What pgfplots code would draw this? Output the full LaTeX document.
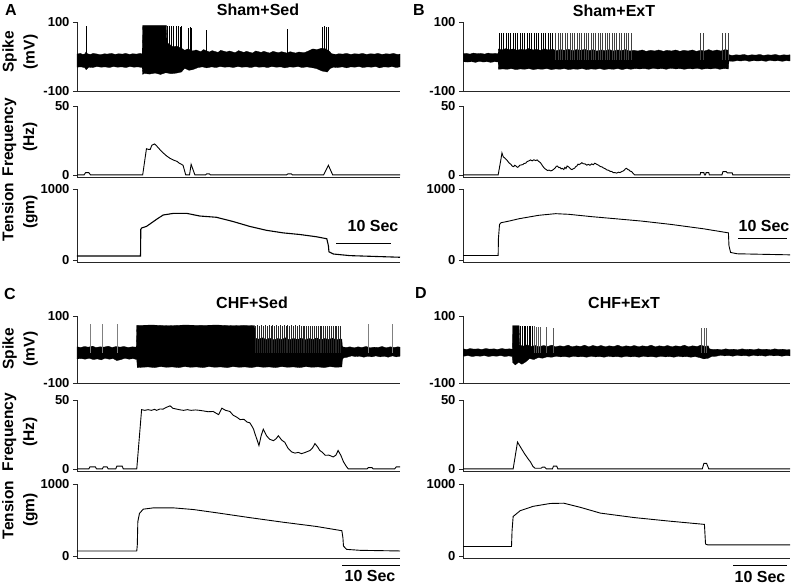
\documentclass[border=0pt]{standalone}
\usepackage{fontspec}
\setmainfont{Liberation Sans}
\usepackage{pgfplots}
\pgfplotsset{compat=1.18}
\newcommand{\lab}{\fontsize{15.5}{21}\selectfont\bfseries}
\newcommand{\ttl}{\fontsize{16}{16}\selectfont\bfseries}
\pgfplotsset{
  panel/.style={scale only axis, axis lines=left, axis line style={-, line width=0.7pt, black!85},
    xmin=0, xmax=60, xtick=\empty, tick align=outside, major tick length=4pt,
    ytick style={line width=0.6pt, black!85},
    yticklabel style={font=\fontsize{13}{13}\selectfont\bfseries},
    anchor=south west},
  spk/.style={panel, ymin=-100, ymax=100, ytick={-100,100}, yticklabels={-100,100}},
  frq/.style={panel, ymin=-1.5, ymax=50, ytick={0,50}, yticklabels={0,50}},
  ten/.style={panel, ymin=-30, ymax=1000, ytick={0,1000}, yticklabels={0,1000}},
  band/.style={fill=black, draw=black, line width=0.3pt},
  spikes/.style={black, line width=0.6pt, quiver={u=0, v=\thisrow{p}+10}},
  trace/.style={black, line width=0.9pt},
}
\begin{document}
\begin{tikzpicture}
\path[use as bounding box] (0,0) rectangle (797pt,-587pt);

% ================= Panel A =================
\begin{axis}[spk, at={(77pt,-91pt)}, width=323pt, height=69pt]
\addplot[band] coordinates {(0,7) (0.6,9) (1.1,6) (1.5,8) (1.7,14) (1.9,8) (2.5,6) (3.0,9) (3.8,7) (4.3,5) (5.1,8) (5.6,7) (6.4,9) (7.1,6) (7.7,8) (8.5,7) (9.0,9) (9.8,6) (10.3,8) (11.1,7) (11.7,9) (12.1,7) (12.2,90) (16.6,90) (16.7,40) (17.2,35) (17.8,28) (18.5,30) (19.4,24) (20.0,18) (20.6,22) (21.5,16) (22.1,19) (23.0,14) (23.5,20) (24.6,13) (25.1,17) (26.2,12) (26.7,18) (27.8,13) (28.3,16) (29.4,11) (30.0,17) (31.0,12) (31.5,15) (32.6,10) (33.2,16) (34.2,12) (34.7,15) (35.8,10) (36.4,15) (37.4,11) (38.0,14) (39.0,10) (39.6,14) (40.6,10) (41.2,13) (42.2,11) (43.0,16) (43.8,22) (44.6,20) (45.4,24) (46.2,22) (46.9,15) (47.3,8) (48.1,6) (48.6,8) (49.4,7) (50.0,9) (50.9,6) (51.5,8) (52.4,7) (53.0,9) (53.8,6) (54.5,8) (55.3,7) (55.9,9) (56.7,6) (57.4,8) (58.1,7) (58.8,9) (59.5,6) (60,7)
(60,-30) (59.3,-32) (58.5,-29) (57.9,-31) (57.0,-30) (56.2,-33) (55.5,-29) (54.7,-31) (54.0,-30) (53.1,-32) (52.4,-29) (51.6,-31) (50.8,-30) (50.1,-33) (49.3,-30) (48.4,-32) (47.6,-31) (47.0,-35) (46.5,-45) (45.5,-42) (44.5,-35) (43.5,-32) (42.7,-30) (41.8,-32) (41.1,-29) (40.2,-31) (39.5,-30) (38.6,-33) (37.9,-30) (37.0,-31) (36.2,-29) (35.4,-32) (34.7,-30) (33.8,-31) (33.1,-29) (32.3,-32) (31.5,-30) (30.6,-31) (29.9,-29) (29.0,-32) (28.3,-30) (27.4,-31) (26.6,-29) (25.8,-32) (25.0,-30) (24.1,-33) (23.3,-30) (22.5,-32) (21.5,-38) (20.8,-40) (20.0,-34) (19.4,-45) (18.5,-48) (17.5,-50) (16.5,-47) (15.5,-52) (14.5,-48) (13.5,-51) (12.5,-49) (12.2,-52) (12.1,-32) (11.3,-30) (10.6,-31) (9.8,-29) (9.1,-32) (8.3,-30) (7.5,-31) (6.8,-29) (6.0,-32) (5.2,-30) (4.5,-31) (3.7,-29) (2.9,-32) (2.2,-31) (1.7,-38) (1.4,-32) (0.7,-30) (0,-31)};
\addplot[spikes] table[row sep=\\, x=t, y expr=-10] {t p\\ 1.7 88\\ 16.8 88\\ 17.1 87\\ 17.5 88\\ 17.9 87\\ 18.4 88\\ 18.8 87\\ 19.1 86\\ 19.4 87\\ 20.7 84\\ 21.0 85\\ 21.3 83\\ 24.0 77\\ 39.1 80\\ 45.6 86\\ 45.9 87\\ 46.3 85\\ 46.7 86\\};
\end{axis}
\begin{axis}[frq, at={(77pt,-177pt)}, width=323pt, height=71pt]
\addplot[trace] coordinates {(0,0) (1.3,0) (1.6,1.7) (2.2,1.7) (2.5,0) (12.2,0) (12.9,19) (13.3,18.5) (13.6,18.5) (13.9,21.5) (14.4,22.5) (14.8,21) (15.4,18.4) (16.0,16) (16.7,13.6) (17.3,12) (17.9,10.8) (18.6,9.8) (19.0,8.5) (19.4,7.7) (19.7,7) (20.2,0) (20.9,0) (21.2,7.7) (21.9,0) (23.9,0) (24.1,0.8) (24.6,0.8) (24.8,0) (38.9,0) (39.2,0.8) (39.8,0.8) (40.0,0) (45.8,0) (46.7,7) (47.5,0) (60,0)};
\end{axis}
\begin{axis}[ten, at={(77pt,-262pt)}, width=323pt, height=73pt]
\addplot[trace, line width=1.1pt] coordinates {(0,55) (11.8,55) (11.85,430) (12.0,450) (12.9,472) (14.8,573) (16.0,633) (17.9,656) (20.4,656) (22.8,619) (25.9,601) (29.0,541) (32.1,472) (35.2,417) (38.3,381) (41.4,358) (44.5,326) (46.4,298) (46.7,200) (46.8,115) (47.6,83) (50.7,60) (60,37)};
\draw[line width=0.8pt] (axis cs:48.2,230) -- (axis cs:58.4,230);
\end{axis}

% ================= Panel B =================
\begin{axis}[spk, at={(463pt,-91pt)}, width=327pt, height=69pt]
\addplot[band] coordinates {(0,8) (0.6,9) (1.3,7) (1.9,10) (2.7,8) (3.2,9) (4.0,7) (4.6,10) (5.3,8) (5.9,9) (6.45,8) (6.5,22) (7.1,19) (7.9,23) (8.4,20) (9.3,22) (9.9,18) (10.6,21) (11.4,19) (12.0,23) (12.9,19) (13.4,21) (14.2,18) (15.0,22) (15.6,19) (16.5,21) (17.1,17) (17.9,20) (18.6,18) (19.3,21) (20.2,17) (20.8,20) (21.7,18) (22.3,21) (23.1,17) (23.9,20) (24.5,16) (25.4,19) (26.0,17) (26.9,20) (27.5,16) (28.4,19) (29.0,17) (29.8,20) (30.6,16) (31.3,18) (32.1,16) (32.9,19) (33.6,15) (34.4,18) (35.2,16) (35.9,19) (36.8,15) (37.4,18) (38.3,16) (39.0,19) (39.8,15) (40.5,18) (41.3,16) (42.1,19) (42.8,15) (43.6,18) (44.3,16) (45.1,20) (45.8,16) (46.6,19) (47.3,16) (48.1,20) (48.7,18) (48.8,5) (49.4,3) (50.1,5) (50.8,4) (51.6,6) (52.2,3) (53.0,5) (53.7,4) (54.5,6) (55.1,3) (55.9,5) (56.6,4) (57.3,6) (58.1,3) (58.8,5) (59.5,4) (60,5)
(60,-13) (59.3,-12) (58.6,-14) (57.8,-12) (57.1,-13) (56.3,-11) (55.6,-14) (54.8,-12) (54.1,-13) (53.3,-12) (52.5,-14) (51.8,-11) (51.0,-13) (50.3,-12) (49.5,-14) (48.8,-13) (48.7,-36) (47.9,-35) (47.1,-37) (46.3,-34) (45.5,-36) (44.6,-35) (43.8,-37) (43.0,-34) (42.2,-36) (41.4,-35) (40.6,-37) (39.8,-35) (39.0,-36) (38.1,-34) (37.3,-37) (36.5,-35) (35.7,-36) (34.9,-34) (34.1,-37) (33.3,-35) (32.4,-36) (31.6,-35) (30.8,-37) (30.0,-35) (29.2,-38) (28.4,-35) (27.6,-37) (26.7,-36) (25.9,-38) (25.1,-35) (24.3,-37) (23.5,-36) (22.7,-38) (21.9,-35) (21.0,-37) (20.2,-36) (19.4,-38) (18.6,-35) (17.8,-37) (17.0,-36) (16.2,-38) (15.4,-35) (14.5,-37) (13.7,-36) (12.9,-38) (12.1,-35) (11.3,-37) (10.5,-36) (9.7,-38) (8.9,-35) (8.1,-37) (7.3,-36) (6.5,-37) (6.45,-16) (5.8,-15) (5.1,-17) (4.4,-15) (3.7,-16) (3.0,-14) (2.3,-17) (1.6,-15) (0.8,-16) (0,-15)};
\addplot[spikes, line width=0.9pt] table[row sep=\\, x=t, y expr=-10] {t p\\ 6.6 68\\ 7.0 69\\ 7.4 68\\ 7.9 68\\ 8.3 69\\ 8.7 68\\ 9.2 68\\ 9.6 69\\ 10.0 68\\ 10.5 68\\ 10.9 69\\ 11.3 68\\ 11.8 68\\ 12.2 69\\ 12.6 68\\ 13.1 68\\ 13.5 69\\ 13.9 68\\ 14.4 68\\ 14.8 69\\ 15.2 68\\ 15.7 68\\ 16.1 69\\ 16.5 68\\};
\addplot[spikes, black!75, line width=0.5pt] table[row sep=\\, x=t, y expr=-10] {t p\\ 17.0 68\\ 17.4 69\\ 17.8 68\\ 18.3 68\\ 18.7 69\\ 19.1 68\\ 19.6 68\\ 20.0 69\\ 20.4 68\\ 20.9 68\\ 21.3 69\\ 21.7 68\\ 22.2 68\\ 22.6 69\\ 23.0 68\\ 23.5 68\\ 23.9 69\\ 24.3 68\\ 24.8 68\\ 25.2 69\\ 25.6 68\\ 26.1 68\\ 26.5 69\\ 26.9 68\\ 27.4 68\\ 27.8 69\\ 28.2 68\\ 28.7 68\\ 29.1 69\\ 29.5 68\\ 30.0 68\\ 30.4 69\\ 30.8 68\\ 43.5 68\\ 44.1 68\\ 47.6 68\\ 48.2 68\\ 48.7 68\\};
\end{axis}
\begin{axis}[frq, at={(463pt,-177pt)}, width=327pt, height=71pt]
\addplot[trace] coordinates {(0,0) (6.45,0) (6.9,10) (7.15,16) (7.4,13) (7.58,12.6) (8.0,11) (8.2,10) (8.5,8.5) (8.79,7.7) (9.0,6.5) (9.3,6) (9.5,7) (9.7,6.5) (10.0,5.5) (10.2,6) (10.4,7) (10.6,7.2) (11.0,7.5) (11.2,8.3) (11.5,8.5) (11.8,9.8) (12.0,10) (12.4,10.9) (12.7,10.2) (13.0,11) (13.3,10.4) (13.6,10.9) (13.9,9.8) (14.2,8.9) (14.5,7.2) (14.7,6) (15.0,4.6) (15.2,4.1) (15.5,3.2) (15.8,3.5) (16.1,2.9) (16.4,3.4) (16.7,4.3) (16.9,5) (17.1,6.2) (17.3,6.5) (17.6,5.3) (17.8,5.5) (18.0,4.4) (18.2,4.8) (18.5,3.9) (18.7,5.5) (18.9,4.6) (19.1,6.5) (19.4,5.8) (19.6,5) (19.8,4.2) (20.0,3.9) (20.3,4.6) (20.5,5) (20.7,6.1) (20.9,6.5) (21.1,7.8) (21.3,7.5) (21.6,8.2) (21.8,8.9) (22.1,8.1) (22.4,8) (22.7,7.1) (23.0,7.7) (23.3,7.0) (23.6,8) (23.9,7.4) (24.2,8.5) (24.6,7.6) (24.9,7) (25.2,6.1) (25.5,5.8) (25.8,5.0) (26.1,4.5) (26.4,3.6) (26.7,3.4) (27.0,2.6) (27.3,2.5) (27.6,1.6) (27.9,1.7) (28.2,1.3) (28.5,2) (28.8,1.7) (29.1,2.4) (29.4,2.9) (29.6,3.5) (29.8,4.4) (30.0,4.8) (30.2,4.0) (30.5,3.5) (30.7,2.7) (30.9,2.5) (31.5,0) (43.5,0) (43.6,1.7) (44.2,1.7) (44.3,0) (44.5,0) (44.6,1.7) (45.1,1.7) (45.2,0) (47.5,0) (47.7,2.4) (48.3,2.4) (48.5,1.5) (49.4,1.5) (49.5,0) (60,0)};
\end{axis}
\begin{axis}[ten, at={(463pt,-262pt)}, width=327pt, height=73pt]
\addplot[trace] coordinates {(0,62) (6.45,62) (6.5,300) (6.7,500) (6.97,524) (8.48,548) (10.3,581) (13.9,629) (17.0,652) (19.4,643) (23.6,610) (27.9,581) (32.7,548) (38.2,500) (44.2,438) (48.7,381) (48.8,200) (49.1,105) (50.3,86) (60,71)};
\draw[line width=0.8pt] (axis cs:50.5,300) -- (axis cs:59.5,300);
\end{axis}

% ================= Panel C =================
\begin{axis}[spk, at={(77pt,-383pt)}, width=323pt, height=67pt]
\addplot[band] coordinates {(0,8) (0.7,6) (1.4,9) (2.1,7) (2.9,10) (3.5,6) (4.3,8) (5.0,7) (5.8,10) (6.5,6) (7.3,9) (8.0,7) (8.7,9) (9.5,6) (10.3,8) (11.0,7) (11.1,72) (14,73) (17,71) (20,73) (23,72) (26,73) (29,71) (31,72) (33.0,71) (33.1,34) (33.8,31) (34.4,35) (35.2,30) (35.8,34) (36.6,29) (37.3,33) (38.1,30) (38.7,35) (39.5,29) (40.2,33) (41.0,30) (41.6,34) (42.4,29) (43.1,33) (43.9,30) (44.5,35) (45.3,29) (46.0,33) (46.8,30) (47.4,34) (48.2,29) (49.0,32) (49.2,30) (49.3,8) (50.0,6) (50.7,8) (51.5,5) (52.2,8) (52.9,6) (53.7,9) (54.4,5) (55.2,7) (55.9,6) (56.7,9) (57.4,5) (58.2,8) (58.9,6) (59.6,8) (60,7)
(60,-20) (59.3,-22) (58.6,-19) (57.8,-23) (57.1,-20) (56.3,-22) (55.5,-19) (54.8,-22) (54.0,-20) (53.3,-23) (52.5,-20) (51.7,-21) (51.0,-19) (50.2,-23) (49.5,-25) (49.3,-30) (49.2,-52) (48.1,-53) (47,-51) (45.9,-54) (44.8,-52) (43.6,-53) (42.5,-51) (41.4,-54) (40.2,-52) (39.1,-53) (38.0,-51) (36.9,-54) (35.7,-52) (34.6,-53) (33.5,-51) (32.4,-54) (31.2,-52) (30.1,-53) (29.0,-51) (27.9,-54) (26.7,-52) (25.6,-53) (24.5,-51) (23.4,-54) (22.2,-52) (21.1,-53) (20.0,-51) (18.9,-54) (17.7,-52) (16.6,-53) (15.5,-51) (14.4,-54) (13.2,-52) (12.1,-53) (11.2,-54) (11.1,-30) (10.4,-27) (9.7,-29) (8.9,-26) (8.2,-30) (7.4,-33) (6.7,-27) (6.0,-29) (5.2,-26) (4.5,-31) (3.8,-28) (3.0,-30) (2.3,-26) (1.5,-29) (0.8,-27) (0,-28)};
\addplot[spikes, black!50, line width=0.5pt] table[row sep=\\, x=t, y expr=-10] {t p\\ 2.4 75\\ 4.7 75\\ 7.4 75\\ 54.1 75\\ 58.5 75\\};
\addplot[spikes, black!85, line width=0.55pt] table[row sep=\\, x=t, y expr=-10] {t p\\ 33.2 71\\ 33.55 72\\ 33.9 71\\ 34.25 72\\ 34.6 71\\ 34.95 72\\ 35.3 71\\ 35.65 72\\ 36.0 71\\ 36.35 72\\ 36.7 71\\ 37.05 72\\ 37.4 71\\ 37.75 72\\ 38.1 71\\ 38.45 72\\ 38.8 71\\ 39.15 72\\ 39.5 71\\ 39.85 72\\ 40.2 71\\ 40.55 72\\ 40.9 71\\ 41.25 72\\ 41.6 71\\ 41.95 70\\ 42.3 71\\ 42.65 70\\ 43.0 71\\ 43.35 70\\ 43.7 71\\ 44.05 70\\ 44.4 71\\ 44.75 70\\ 45.1 71\\ 45.45 70\\ 45.8 71\\ 46.15 70\\ 46.5 71\\ 46.85 70\\ 47.2 71\\ 47.55 70\\ 47.9 71\\ 48.25 70\\ 48.6 71\\ 48.95 70\\};
\end{axis}
\begin{axis}[frq, at={(77pt,-471pt)}, width=323pt, height=71pt]
\addplot[trace] coordinates {(0,0) (2.2,0) (2.4,1.5) (3.4,1.5) (3.65,0) (4.7,0) (4.9,1.5) (5.6,1.5) (5.8,0) (7.2,0) (7.4,2) (8.4,2) (8.6,0) (11.1,0) (12.0,43) (12.6,42.5) (13.2,43) (13.8,42.5) (14.4,43.2) (14.8,42.5) (15.4,43.5) (16.0,43.4) (16.5,44.5) (17.3,45.8) (17.8,44) (18.4,43.5) (19.1,42.9) (19.8,42.5) (20.5,43) (21.2,42.5) (22.0,42.8) (22.8,42.5) (23.6,42) (24.4,41.5) (25.3,41.7) (25.8,40.5) (26.3,39.4) (26.9,44.1) (27.6,42.5) (28.4,41.7) (29.0,39) (29.7,37.5) (30.3,35.8) (31.0,36) (31.6,34) (32.1,33.5) (32.5,31) (32.8,28.8) (33.1,25) (33.4,21.7) (33.8,17.0) (34.2,24) (34.6,28.8) (35.2,24.1) (35.8,21.5) (36.5,20.5) (37.0,22) (37.4,24.1) (38.0,21) (38.6,19.3) (39.2,15) (39.9,12.3) (40.5,11.5) (41.1,12) (41.7,11.1) (42.4,12) (43.3,13.4) (43.8,15.5) (44.2,18.4) (44.7,16) (45.1,13.4) (45.6,12) (46.1,9.9) (46.8,10) (47.6,8.7) (48.1,10) (48.5,13.4) (49.0,10) (49.5,5.2) (50.0,2) (50.4,0) (53.9,0) (54.1,1) (54.8,1) (55.0,0) (59.0,0) (59.3,1.5) (60,1.5)};
\end{axis}
\begin{axis}[ten, at={(77pt,-558pt)}, width=323pt, height=74pt]
\addplot[trace] coordinates {(0,68) (11.1,68) (11.2,150) (11.3,477) (11.6,590) (12.3,650) (14.2,668) (17.9,668) (21.6,645) (25.9,600) (32.1,532) (38.3,468) (44.5,409) (49.2,350) (49.4,250) (49.5,136) (50.1,90) (52.6,77) (60,68)};
\end{axis}

% ================= Panel D =================
\begin{axis}[spk, at={(463pt,-383pt)}, width=327pt, height=67pt]
\addplot[band] coordinates {(0,2) (0.7,0) (1.3,3) (2.0,1) (2.8,2) (3.4,0) (4.2,3) (4.9,1) (5.7,2) (6.3,0) (7.1,3) (7.8,1) (8.5,2) (9.05,1) (9.1,71) (10.3,71) (10.4,13) (11.0,10) (11.8,14) (12.4,9) (13.3,12) (13.9,8) (14.8,12) (15.5,9) (16.3,13) (16.9,8) (17.8,11) (18.5,9) (19.3,13) (20.0,8) (20.8,11) (21.6,9) (22.3,13) (23.1,8) (23.8,12) (24.7,9) (25.3,12) (26.2,8) (26.8,11) (27.7,9) (28.4,13) (29.2,8) (29.9,11) (30.8,9) (31.4,12) (32.3,8) (32.9,11) (33.8,9) (34.5,13) (35.3,8) (36.0,11) (36.9,9) (37.5,12) (38.4,8) (39.0,11) (39.9,9) (40.6,13) (41.4,8) (42.1,11) (43.0,9) (43.6,13) (44.4,9) (45.0,11) (45.2,2) (45.9,0) (46.7,1) (47.4,-1) (48.2,2) (48.9,0) (49.7,1) (50.4,-1) (51.2,2) (51.9,0) (52.7,1) (53.4,-1) (54.2,2) (54.9,0) (55.7,1) (56.4,-1) (57.2,2) (57.9,0) (58.7,1) (59.4,-1) (60,0)
(60,-19) (59.3,-18) (58.5,-20) (57.8,-18) (57.0,-19) (56.3,-17) (55.5,-20) (54.8,-18) (54.0,-19) (53.3,-17) (52.5,-20) (51.8,-18) (51.0,-19) (50.3,-17) (49.5,-20) (48.8,-18) (48.0,-19) (47.3,-17) (46.5,-20) (45.6,-21) (45.0,-26) (44.2,-28) (43.4,-24) (42.6,-21) (41.8,-23) (41.0,-21) (40.3,-22) (39.5,-20) (38.7,-23) (37.9,-21) (37.1,-22) (36.3,-20) (35.5,-23) (34.7,-21) (33.9,-22) (33.1,-20) (32.3,-23) (31.5,-21) (30.7,-22) (29.9,-20) (29.1,-23) (28.3,-21) (27.5,-22) (26.7,-20) (25.9,-23) (25.1,-21) (24.3,-22) (23.5,-20) (22.7,-23) (21.9,-21) (21.1,-22) (20.3,-20) (19.5,-23) (18.7,-21) (17.9,-22) (17.1,-20) (16.3,-23) (15.4,-22) (14.6,-26) (13.8,-24) (13.0,-30) (12.2,-27) (11.5,-37) (10.8,-44) (10.2,-38) (9.6,-46) (9.1,-38) (9.05,-21) (8.4,-19) (7.7,-21) (6.9,-18) (6.2,-20) (5.4,-19) (4.7,-21) (3.9,-18) (3.2,-20) (2.4,-19) (1.7,-21) (0.9,-18) (0.2,-20) (0,-19)};
\addplot[spikes] table[row sep=\\, x=t, y expr=-10] {t p\\ 10.6 71\\ 10.9 70\\ 11.2 71\\ 11.5 70\\ 11.8 71\\ 12.1 70\\ 12.4 71\\ 12.7 70\\};
\addplot[spikes, black!65, line width=0.5pt] table[row sep=\\, x=t, y expr=-10] {t p\\ 13.1 69\\ 13.5 68\\ 13.8 68\\ 14.2 67\\ 15.2 66\\ 16.5 64\\ 43.7 63\\ 44.2 63\\ 44.6 63\\};
\end{axis}
\begin{axis}[frq, at={(463pt,-471pt)}, width=327pt, height=71pt]
\addplot[trace] coordinates {(0,0) (9.2,0) (10.0,19.5) (10.6,15.5) (11.3,11) (12.0,7) (12.4,5) (12.8,2) (13.2,0.5) (14.3,0.5) (14.6,1.3) (15.0,1.3) (15.3,0) (16.4,0) (16.6,2) (17.2,2) (17.4,0) (43.9,0) (44.2,4) (44.7,4) (45.1,0) (60,0)};
\end{axis}
\begin{axis}[ten, at={(463pt,-558pt)}, width=327pt, height=74pt]
\addplot[trace] coordinates {(0,130) (8.9,130) (9.0,350) (9.2,548) (10.5,629) (12.9,690) (16.0,729) (18.5,733) (21.5,676) (25.2,595) (31.4,533) (37.5,486) (44.3,438) (44.4,300) (44.5,165) (44.9,152) (60,152)};
\end{axis}

% ================= annotations =================
\node[font=\ttl] at (11pt,-10pt) {A};
\node[font=\ttl] at (419pt,-10pt) {B};
\node[font=\ttl] at (10pt,-294pt) {C};
\node[font=\ttl] at (421pt,-293pt) {D};
\node[font=\ttl] at (258pt,-10pt) {Sham+Sed};
\node[font=\ttl] at (614pt,-11pt) {Sham+ExT};
\node[font=\ttl] at (252pt,-303pt) {CHF+Sed};
\node[font=\ttl] at (624pt,-303pt) {CHF+ExT};
\node[font=\lab, rotate=90, align=center] at (20pt,-52pt) {Spike\\(mV)};
\node[font=\lab, rotate=90, align=center] at (20pt,-137pt) {Frequency\\(Hz)};
\node[font=\lab, rotate=90, align=center] at (20pt,-212pt) {Tension\\(gm)};
\node[font=\lab, rotate=90, align=center] at (20pt,-349pt) {Spike\\(mV)};
\node[font=\lab, rotate=90, align=center] at (20pt,-432pt) {Frequency\\(Hz)};
\node[font=\lab, rotate=90, align=center] at (20pt,-510pt) {Tension\\(gm)};
\node[font=\ttl] at (373pt,-226pt) {10 Sec};
\node[font=\ttl] at (764pt,-226pt) {10 Sec};
\node[font=\ttl] at (370pt,-576pt) {10 Sec};
\node[font=\ttl] at (760pt,-577pt) {10 Sec};
\draw[line width=0.8pt] (342pt,-565pt) -- (400pt,-565pt);
\draw[line width=0.8pt] (733pt,-565pt) -- (787pt,-565pt);
\end{tikzpicture}
\end{document}
